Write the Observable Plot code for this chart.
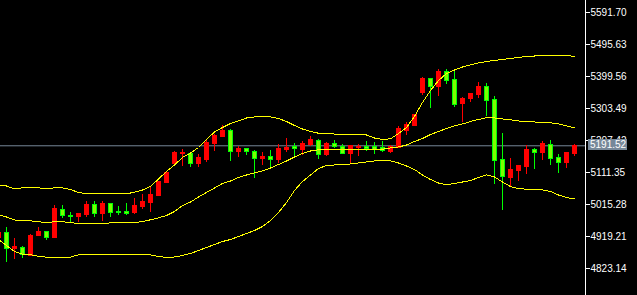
<!DOCTYPE html>
<html><head><meta charset="utf-8">
<script src="https://cdn.jsdelivr.net/npm/d3@7"></script>
<script src="https://cdn.jsdelivr.net/npm/@observablehq/plot@0.6"></script>
<style>
html,body{margin:0;padding:0;background:#000;overflow:hidden}
#chart svg{display:block}
</style></head><body><div id="chart"></div>
<script>
// Candle indices (bar number, -1 is the partly hidden bar at the left edge)
const barIndex = d3.range(-1, 72);
const open = [4916.2,4931.2,4880.2,4884.1,4860.1,4920.1,4934.2,4914.1,4999.4,4981.4,4977.2,4982.3,5012.3,4985.3,5015.3,4992.2,4991.3,4988.3,5006.3,5018.3,5042.3,5079.2,5136.3,5166.3,5167.5,5137.5,5149.5,5197.5,5217.3,5237.4,5171.4,5182.5,5173.5,5151.3,5156.4,5147.4,5180.4,5187.3,5180.4,5194.5,5206.5,5163.3,5196.3,5189.4,5165.4,5184.3,5189.4,5187.3,5185.5,5172.3,5185.5,5236.5,5250.4,5350.6,5390.6,5367.4,5411.6,5387.6,5316.4,5331.4,5345.5,5369.5,5330.5,5147.4,5096.3,5114.4,5126.4,5178.3,5169.3,5195.4,5153.4,5139.3,5166.3];
const high = [4937.2,4946.2,4913.2,4889.2,4925.2,4945.3,4934.2,5012.3,5012.3,4992.2,4985.3,5024.3,5024.3,5025.2,5015.3,5009.3,5018.3,5033.3,5045.3,5066.3,5084.3,5108.4,5174.4,5181.3,5170.5,5166.3,5207.4,5225.4,5251.6,5240.5,5189.4,5182.5,5177.4,5171.4,5177.4,5195.4,5213.4,5198.4,5204.4,5220.3,5211.3,5200.5,5207.4,5195.4,5193.3,5195.4,5203.5,5201.4,5204.4,5192.4,5249.4,5260.6,5282.5,5397.5,5390.6,5420.6,5420.6,5417.6,5336.5,5348.5,5381.5,5378.5,5339.5,5229.3,5153.4,5133.3,5193.3,5183.4,5205.3,5207.4,5165.4,5168.4,5195.4];
const low = [4910.2,4841.2,4850.2,4854.1,4859.2,4920.1,4907.2,4914.1,4974.2,4960.3,4962.1,4976.3,4977.2,4965.1,4977.2,4983.2,4983.2,4985.3,5000.3,4992.2,5040.2,5077.4,5134.5,5130.3,5127.3,5125.5,5142.3,5175.3,5217.3,5144.4,5157.3,5163.3,5094.2,5132.4,5125.5,5137.5,5171.4,5157.3,5162.4,5190.3,5149.5,5160.3,5182.5,5164.5,5134.5,5160.3,5175.3,5166.3,5172.3,5167.5,5185.5,5222.4,5250.4,5342.5,5304.4,5340.4,5375.5,5306.5,5262.4,5322.4,5334.4,5279.5,5075.3,4997.3,5067.2,5084.3,5106.3,5120.4,5148.3,5133.3,5108.4,5124.3,5159.4];
const close = [4931.2,4880.2,4887.1,4862.2,4922.2,4934.2,4915.3,5000.3,4980.2,4977.2,4985.3,5012.3,4987.4,5015.3,4990.4,4988.3,4987.4,5009.3,5021.3,5045.3,5082.2,5108.4,5168.4,5169.3,5137.5,5154.3,5200.5,5220.3,5237.4,5172.3,5182.5,5171.4,5151.3,5156.4,5148.3,5183.4,5186.4,5181.3,5198.4,5208.9,5163.3,5196.3,5187.3,5166.3,5191.5,5188.5,5182.5,5180.4,5175.3,5189.4,5240.5,5252.5,5282.5,5390.6,5367.4,5411.6,5385.5,5315.5,5333.5,5348.5,5369.5,5327.5,5145.3,5097.2,5117.4,5130.3,5178.3,5169.3,5196.3,5150.4,5139.3,5168.4,5191.52];
// Bollinger bands
const bbUpper = [5073.8,5070.8,5061.8,5065.4,5065.4,5065.4,5062.4,5065.4,5065.4,5060.3,5051.3,5047.4,5047.4,5049.2,5047.4,5047.4,5047.4,5052.2,5058.8,5069.3,5091.8,5114.4,5133.9,5156.4,5169.9,5186.4,5210.4,5232.9,5246.5,5258.5,5266.0,5275.0,5278.0,5279.5,5278.0,5273.5,5264.5,5252.5,5242.0,5234.4,5229.3,5227.5,5226.9,5226.3,5225.4,5225.4,5223.9,5214.9,5210.4,5212.5,5228.4,5246.5,5279.5,5321.5,5357.5,5387.6,5408.6,5419.1,5428.1,5434.1,5440.1,5444.6,5447.6,5450.6,5453.6,5456.6,5459.6,5461.1,5462.6,5464.1,5464.1,5462.6,5459.6];
const bbMiddle = [4985.3,4977.8,4968.8,4966.4,4966.4,4963.3,4961.2,4963.3,4963.3,4961.2,4958.2,4958.2,4958.2,4957.3,4960.3,4960.3,4960.3,4960.3,4964.2,4969.4,4975.4,4982.3,4994.3,5012.3,5022.8,5037.8,5051.3,5064.8,5078.3,5085.8,5096.3,5103.8,5109.9,5115.9,5124.9,5135.4,5145.9,5157.9,5168.4,5175.9,5179.5,5179.5,5179.5,5180.4,5180.4,5180.4,5180.4,5180.4,5181.3,5184.9,5187.9,5193.9,5204.4,5213.4,5225.4,5234.4,5243.5,5251.0,5257.0,5264.5,5270.5,5275.6,5275.0,5272.0,5269.6,5266.0,5264.5,5263.0,5261.5,5260.6,5257.0,5251.0,5245.0];
const bbLower = [4910.2,4892.2,4874.2,4865.8,4864.3,4860.1,4857.1,4857.1,4857.1,4857.1,4864.3,4864.3,4864.3,4863.7,4863.7,4863.7,4863.7,4863.7,4863.7,4863.7,4859.2,4856.2,4857.7,4862.2,4868.2,4877.2,4886.2,4895.2,4904.2,4910.2,4919.2,4928.2,4937.2,4949.2,4967.3,4991.3,5021.3,5057.3,5084.3,5103.8,5123.4,5132.4,5133.9,5135.4,5136.9,5139.9,5142.9,5145.9,5147.4,5145.9,5139.9,5130.9,5120.4,5103.8,5090.3,5079.8,5074.4,5078.3,5082.8,5087.3,5096.3,5104.5,5097.8,5082.8,5069.3,5062.4,5061.5,5060.3,5059.4,5054.3,5043.8,5036.3,5031.8];
// Price axis tick labels and the current price
const yTicks = [4823.14, 4919.21, 5015.28, 5111.35, 5207.42, 5303.49, 5399.56, 5495.63, 5591.70];
const lastPrice = 5191.52;

const UP = "#FF0000", DOWN_FILL = "#7CFC00", DOWN_LINE = "#00FF00";
const candles = barIndex.map((i, k) => ({i, o: open[k], h: high[k], l: low[k], c: close[k]}));
const bands = barIndex.map((i, k) => ({i, u: bbUpper[k], m: bbMiddle[k], lo: bbLower[k]}));
const up = d => d.c >= d.o;
const xDomain = [-0.75, 72.375];
const yDomain = [4742.08, 5627.73];

const chart = Plot.plot({
  width: 637, height: 295,
  marginLeft: 0, marginRight: 52, marginTop: 0, marginBottom: 0,
  style: {background: "#000", color: "#fff", fontFamily: "Liberation Sans, Arial, sans-serif", fontSize: "10px"},
  x: {domain: xDomain, axis: null},
  y: {domain: yDomain, axis: null},
  color: {type: "identity"},
  marks: [
    Plot.ruleY([lastPrice], {stroke: "#778899"}),
    Plot.ruleX(candles, {x: "i", y1: "l", y2: "h", stroke: d => up(d) ? UP : DOWN_LINE, shapeRendering: "crispEdges"}),
    Plot.rect(candles, {x1: d => d.i - 0.25, x2: d => d.i + 0.25, y1: "o", y2: "c",
      fill: d => up(d) ? UP : DOWN_FILL, stroke: d => up(d) ? UP : DOWN_LINE, shapeRendering: "crispEdges"}),
    Plot.line(bands, {x: "i", y: "u", stroke: "#FFFF00", strokeWidth: 1, shapeRendering: "crispEdges"}),
    Plot.line(bands, {x: "i", y: "m", stroke: "#FFFF00", strokeWidth: 1, shapeRendering: "crispEdges"}),
    Plot.line(bands, {x: "i", y: "lo", stroke: "#FFFF00", strokeWidth: 1, shapeRendering: "crispEdges"}),
    Plot.ruleX([xDomain[1]], {stroke: "#fff"}),
    Plot.axisY(yTicks, {anchor: "right", tickSize: 4, tickPadding: 1, tickFormat: d => d.toFixed(2), stroke: "#fff", fill: "#fff"})
  ]
});
document.getElementById("chart").appendChild(chart);

// current price label box on the price axis
const svg = d3.select(chart);
const yP = chart.scale("y").apply(lastPrice);
const xA = chart.scale("x").apply(xDomain[1]);
const g = svg.append("g");
g.append("rect").attr("x", xA + 3).attr("y", Math.round(yP) - 6).attr("width", 39).attr("height", 11).attr("fill", "#778899");
g.append("text").attr("x", xA + 5).attr("y", Math.round(yP)).attr("dy", "0.32em")
  .attr("text-anchor", "start")
  .attr("fill", "#fff").attr("font-size", 10).attr("font-family", "Liberation Sans, Arial, sans-serif")
  .text(lastPrice.toFixed(2));
</script></body></html>
